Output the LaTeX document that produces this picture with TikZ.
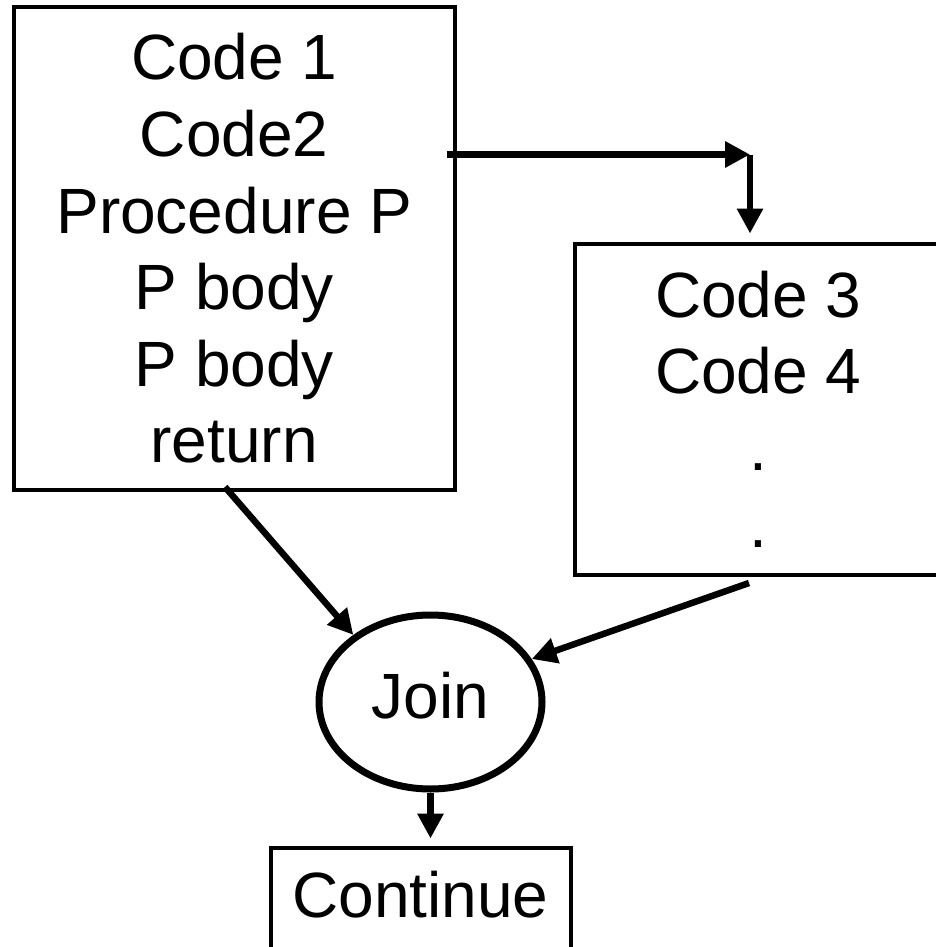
\documentclass[tikz,border=0pt]{standalone}
\usepackage{fontspec}
\setmainfont{Liberation Sans}
\usetikzlibrary{shapes.geometric,arrows.meta,calc}
\begin{document}
\begin{tikzpicture}[x=1pt,y=-1pt,
  box/.style={draw,line width=4pt,rectangle,inner sep=0pt,align=center,font=\fontsize{64}{76.6}\selectfont},
  joinnode/.style={draw,line width=7pt,ellipse,inner sep=0pt,minimum width=223pt,minimum height=174pt,font=\fontsize{64}{76.6}\selectfont,text height=47pt,text depth=15pt},
  arr/.style={line width=6.5pt,-{Triangle[length=25pt,width=25pt]}}]
\useasboundingbox (0,0) rectangle (936,947);
\clip (0,0) rectangle (936,947);
\node[box,minimum width=440.5pt,minimum height=483pt] (a) at (234.25,248.5) {Code 1\\Code2\\Procedure P\\P body\\P body\\return};
\node[box,minimum width=367.5pt,minimum height=331pt] (b) at (758.25,409) {Code 3\\Code 4\\.\\.};
\node[joinnode] (j) at (430.5,702) {Join};
\node[box,minimum width=300pt,minimum height=112.5pt,text height=47pt,text depth=20.5pt] (c) at (420.5,903.75) {Continue};
\coordinate (s1) at (447,154.5);
\coordinate (k) at (750,154.5);
\coordinate (s2) at (225,487);
\coordinate (s3) at (749,583);
\draw[arr] (s1) -- (k);
\draw[arr,shorten >=8pt] (k) -- (k |- b.north);
\draw[arr] (s2) -- (j.139);
\draw[arr] (s3) -- (j.23);
\draw[arr,shorten >=7pt] (j.south) -- (j.south |- c.north);
\end{tikzpicture}
\end{document}
